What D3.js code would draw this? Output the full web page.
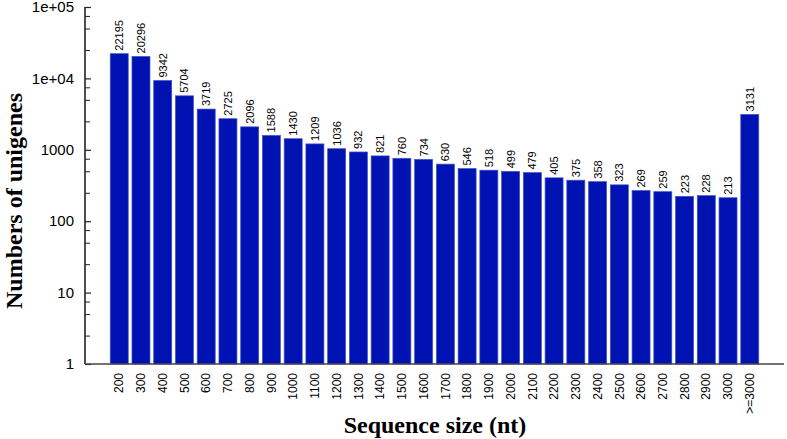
<!DOCTYPE html>
<html><head><meta charset="utf-8">
<script src="https://cdn.jsdelivr.net/npm/d3@7"></script>
<style>body{margin:0;background:#fff}svg{display:block}</style>
</head><body>
<svg id="c" width="787" height="439"></svg>
<script>
const categories = ["200","300","400","500","600","700","800","900","1000","1100","1200","1300","1400","1500","1600","1700","1800","1900","2000","2100","2200","2300","2400","2500","2600","2700","2800","2900","3000",">=3000"];
const counts = [22195,20296,9342,5704,3719,2725,2096,1588,1430,1209,1036,932,821,760,734,630,546,518,499,479,405,375,358,323,269,259,223,228,213,3131];
const yTickValues = [1,10,100,1000,10000,100000];
const yTickLabels = ["1","10","100","1000","1e+04","1e+05"];

(function(){
const svg = d3.select("#c");
const pL = 85, pR = 784, pT = 7, pB = 364;

const x = d3.scaleBand().domain(categories).range([pL, pR]).paddingInner(0.172).paddingOuter(1.16);
const y = d3.scaleLog().domain([1, 100000]).range([pB, pT]);

// bars
svg.append("g").selectAll("rect").data(counts).join("rect")
  .attr("x", (d,i) => x(categories[i]))
  .attr("width", x.bandwidth())
  .attr("y", d => y(d))
  .attr("height", d => pB - y(d))
  .attr("fill", "#0012b2")
  .attr("stroke", "#4052c8")
  .attr("stroke-width", 0.7);

// value labels
svg.append("g").selectAll("text").data(counts).join("text")
  .attr("transform", (d,i) => `translate(${x(categories[i]) + x.bandwidth()/2 + 4},${y(d) - 3}) rotate(-90)`)
  .attr("font-family", "Liberation Sans, Arial, sans-serif")
  .attr("font-size", 11)
  .attr("fill", "#000")
  .text(d => d);

// minor ticks
const minor = [];
for (let e = 0; e < 5; e++) for (const m of [2.5,5,7.5]) minor.push(m * Math.pow(10, e));
const yAxisMinor = d3.axisRight(y).tickValues(minor).tickSize(5).tickFormat("");
const gm = svg.append("g").attr("transform", `translate(${pL},0)`).call(yAxisMinor);
gm.select(".domain").remove();
gm.selectAll("line").attr("stroke", "#222").attr("stroke-width", 1);

// major ticks (inward) and labels
const yAxis = d3.axisRight(y).tickValues(yTickValues).tickSize(6).tickFormat("");
const gy = svg.append("g").attr("transform", `translate(${pL},0)`).call(yAxis);
gy.select(".domain").remove();
gy.selectAll("line").attr("stroke", "#222").attr("stroke-width", 1.2);

svg.append("g").selectAll("text").data(yTickValues).join("text")
  .attr("x", pL - 11)
  .attr("y", d => y(d))
  .attr("dy", "0.35em")
  .attr("text-anchor", "end")
  .attr("font-family", "Liberation Sans, Arial, sans-serif")
  .attr("font-size", 15)
  .text((d,i) => yTickLabels[i]);

// axis lines
svg.append("line").attr("x1", pL).attr("x2", pL).attr("y1", pT).attr("y2", pB)
  .attr("stroke", "#222").attr("stroke-width", 1.6);
svg.append("line").attr("x1", pL).attr("x2", pR).attr("y1", pB).attr("y2", pB)
  .attr("stroke", "#444").attr("stroke-width", 1.6);

// x tick labels
const xAxis = d3.axisBottom(x).tickSize(0).tickPadding(0);
const gx = svg.append("g").attr("transform", `translate(0,${pB})`).call(xAxis);
gx.select(".domain").remove();
gx.selectAll("text")
  .attr("font-family", "Liberation Sans, Arial, sans-serif")
  .attr("font-size", 12)
  .attr("fill", "#000")
  .attr("text-anchor", "end")
  .attr("transform", "rotate(-90)")
  .attr("x", -9)
  .attr("y", 0)
  .attr("dy", "0.35em");

// titles
svg.append("text")
  .attr("transform", `translate(22,201) rotate(-90)`)
  .attr("text-anchor", "middle")
  .attr("font-family", "Liberation Serif, Times New Roman, serif")
  .attr("font-weight", "bold")
  .attr("font-size", 24)
  .text("Numbers of unigenes");
svg.append("text")
  .attr("x", 435).attr("y", 433)
  .attr("text-anchor", "middle")
  .attr("font-family", "Liberation Serif, Times New Roman, serif")
  .attr("font-weight", "bold")
  .attr("font-size", 24)
  .text("Sequence size (nt)");
})();
</script>
</body></html>
